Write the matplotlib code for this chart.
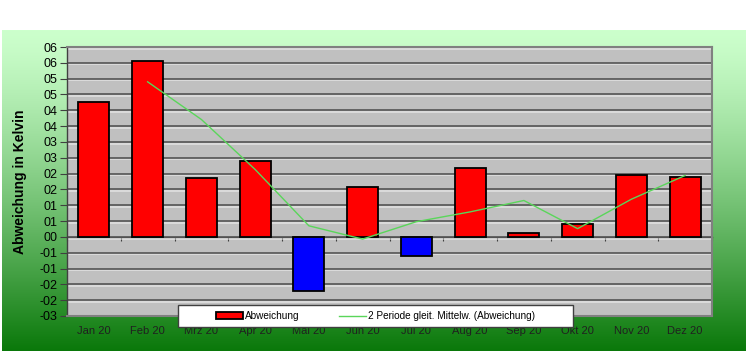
import numpy as np
import matplotlib
matplotlib.use("Agg")
import matplotlib.pyplot as plt
import matplotlib.patheffects as pe
from matplotlib.patches import Rectangle

plt.rcParams['font.family'] = ['Liberation Sans', 'DejaVu Sans']

# data
months = ['Jan 20', 'Feb 20', 'Mrz 20', 'Apr 20', 'Mai 20', 'Jun 20',
          'Jul 20', 'Aug 20', 'Sep 20', 'Okt 20', 'Nov 20', 'Dez 20']
abweichung = [4.26, 5.55, 1.87, 2.40, -1.70, 1.57, -0.60, 2.18, 0.11, 0.41, 1.97, 1.90]
mittel = [np.nan, 4.90, 3.71, 2.13, 0.35, -0.07, 0.48, 0.79, 1.15, 0.26, 1.19, 1.94]
ytick_vals = [-2.5, -2.0, -1.5, -1.0, -0.5, 0.0, 0.5, 1.0, 1.5, 2.0, 2.5, 3.0,
              3.5, 4.0, 4.5, 5.0, 5.5, 6.0]
ytick_labels = ['-03', '-02', '-02', '-01', '-01', '00', '01', '01', '02', '02',
                '03', '03', '04', '04', '05', '05', '06', '06']

W, H = 746, 351
fig = plt.figure(figsize=(W / 100, H / 100), dpi=100, facecolor='white')

# green gradient background
bg = fig.add_axes([2 / W, 0, 1 - 2 / W, 321 / H], zorder=-10)
t = np.linspace(0, 1, 256) ** 1.3
top = np.array([204, 255, 204]) / 255
bot = np.array([10, 120, 10]) / 255
grad = top[None, :] * (1 - t[:, None]) + bot[None, :] * t[:, None]
bg.imshow(grad[:, None, :], aspect='auto', extent=[0, 1, 0, 1])
bg.axis('off')

# plot area
x0, x1, y0, y1 = 67, 712, 47, 316
ax = fig.add_axes([x0 / W, 1 - y1 / H, (x1 - x0) / W, (y1 - y0) / H])
ax.set_facecolor('#c0c0c0')
ax.set_xlim(-0.5, len(months) - 0.5)
ax.set_ylim(ytick_vals[0], ytick_vals[-1])

for yv in ytick_vals:
    ax.axhline(yv, color='#555555', lw=1.2, zorder=1,
               path_effects=[pe.SimpleLineShadow(offset=(0, -1.2), shadow_color='white', alpha=0.5),
                             pe.Normal()])

x = np.arange(len(months))
cols = ['#ff0000' if v >= 0 else '#0000ff' for v in abweichung]
bars = ax.bar(x, abweichung, width=0.58, color=cols, edgecolor='black', lw=1.3, zorder=3)
line, = ax.plot(x, mittel, color='#5ad65a', lw=1.0, zorder=4)

ax.set_yticks(ytick_vals)
ax.set_yticklabels(ytick_labels, fontsize=9)
ax.tick_params(axis='y', direction='out', length=5, color='#404040', pad=2)
ax.set_xticks(x)
ax.set_xticklabels(months, fontsize=8, color='#202020')
ax.tick_params(axis='x', length=0, pad=7)

for s in ['top', 'right', 'bottom']:
    ax.spines[s].set_color('#808080')
    ax.spines[s].set_linewidth(1.5)
ax.spines['left'].set_color('#404040')
ax.spines['left'].set_linewidth(1.0)

ax.set_ylabel('Abweichung in Kelvin', fontsize=10, fontweight='bold', labelpad=9)

# category axis crossing at zero
zero_pos = (0 - ytick_vals[0]) / (ytick_vals[-1] - ytick_vals[0])
sec = ax.secondary_xaxis(zero_pos)
sec.set_xticks(np.arange(-0.5, len(months), 1.0))
sec.tick_params(direction='out', length=3, color='#404040', labelbottom=False, labeltop=False)
for s in sec.spines.values():
    s.set_color('#404040')
    s.set_linewidth(1.0)

# legend box
lx0, lx1, ly0, ly1 = 178, 573, 305, 327
fig.patches.append(Rectangle((lx0 / W, 1 - ly1 / H), (lx1 - lx0) / W, (ly1 - ly0) / H,
                             transform=fig.transFigure, facecolor='white',
                             edgecolor='#404040', lw=1.0, zorder=5))
leg = fig.legend([bars, line], ['Abweichung', '2 Periode gleit. Mittelw. (Abweichung)'],
                 loc='center', bbox_to_anchor=((lx0 + lx1) / 2 / W, 1 - (ly0 + ly1) / 2 / H),
                 ncol=2, frameon=False, fontsize=7.2, handlelength=2.7, handleheight=0.6,
                 handletextpad=0.2, columnspacing=4.0)
leg.set_zorder(6)

fig.savefig('out.png', dpi=100, facecolor='white')
